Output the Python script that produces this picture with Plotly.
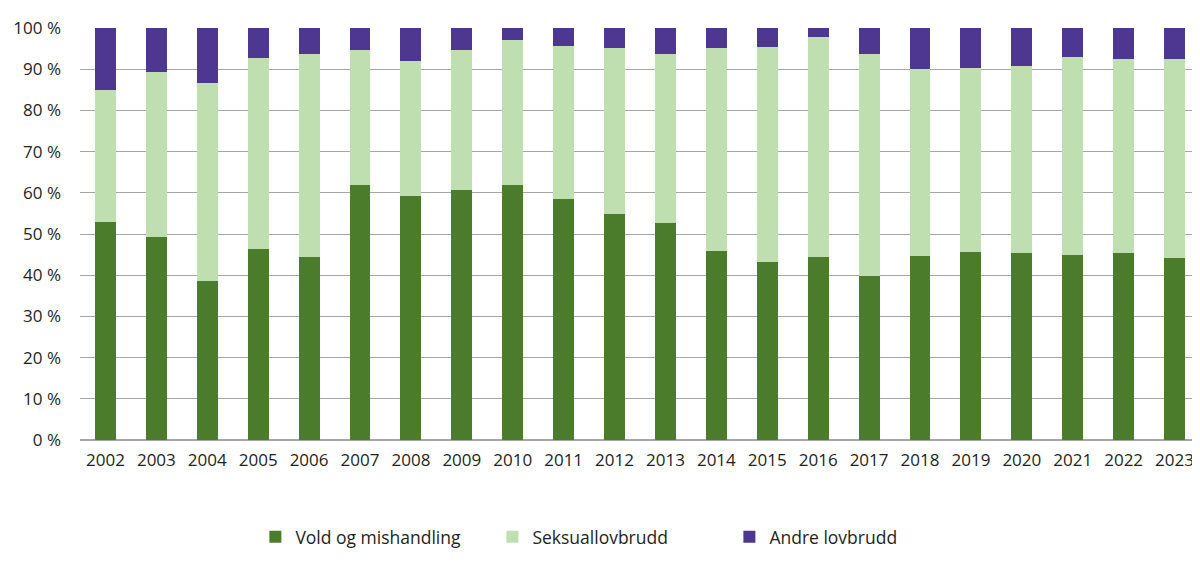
import plotly.graph_objects as go

years = [str(y) for y in range(2002, 2024)]

# share of cases per year, in percent
vold = [53.0, 49.2, 38.6, 46.3, 44.5, 61.8, 59.2, 60.8, 61.8, 58.6, 54.8,
        52.6, 45.9, 43.2, 44.5, 39.9, 44.6, 45.7, 45.4, 45.0, 45.3, 44.1]
seksual = [31.9, 40.1, 48.0, 46.3, 49.1, 32.9, 32.9, 33.8, 35.2, 37.1, 40.3,
           41.1, 49.3, 52.2, 53.2, 53.8, 45.5, 44.7, 45.3, 47.9, 47.2, 48.4]
andre = [15.1, 10.7, 13.4, 7.4, 6.4, 5.3, 7.9, 5.4, 3.0, 4.3, 4.9,
         6.3, 4.8, 4.6, 2.3, 6.3, 9.9, 9.6, 9.3, 7.1, 7.5, 7.5]

names = ['Vold og mishandling', 'Seksuallovbrudd', 'Andre lovbrudd']
colors = ['#4a7c2c', '#bfdfb1', '#4d3790']

fig = go.Figure()
for name, vals, col in zip(names, [vold, seksual, andre], colors):
    fig.add_trace(go.Bar(x=years, y=vals, name=name, marker_color=col,
                         marker_line_width=0))

# page body has an 8px margin, so size the figure to fit the window
fig.update_layout(
    barmode='stack',
    bargap=0.59,
    width=1192, height=558,
    margin=dict(l=72, r=0, t=20, b=126),
    plot_bgcolor='white',
    paper_bgcolor='white',
    font=dict(family='Open Sans', size=17, color='#231f20'),
    legend=dict(orientation='h', x=0.474, xanchor='center', y=-0.235,
                yanchor='middle', font=dict(size=17.5), itemwidth=30,
                entrywidth=192, traceorder='normal'),
    showlegend=True,
)
fig.update_xaxes(showline=False, ticks='', tickfont=dict(size=17),
                 ticklabelstandoff=8, automargin=False)
fig.update_yaxes(range=[0, 100], dtick=10, ticksuffix=' %',
                 showgrid=True, gridcolor='#a6a6a6', gridwidth=1.3,
                 zeroline=True, zerolinecolor='#a6a6a6', zerolinewidth=1.5,
                 tickfont=dict(size=17), ticklen=0, ticklabelstandoff=18,
                 automargin=False)

fig.write_html("out.html")
